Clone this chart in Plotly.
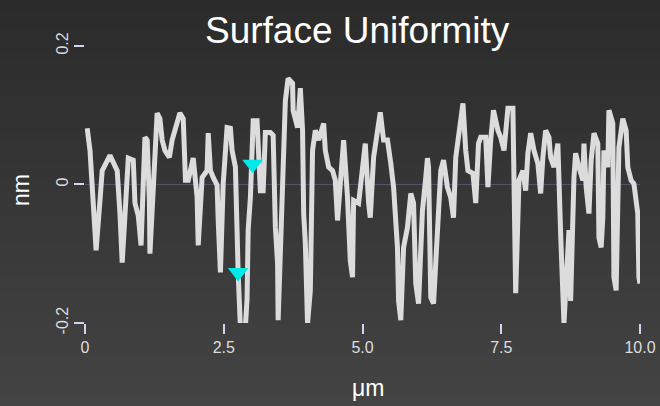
import plotly.graph_objects as go

# Profile data (µm, nm)
x_um = [0.04, 0.09, 0.14, 0.20, 0.27, 0.31, 0.45, 0.58, 0.63, 0.67,
        0.78, 0.87, 0.90, 0.96, 1.01, 1.05, 1.08, 1.12, 1.16, 1.17,
        1.23, 1.26, 1.30, 1.35, 1.39, 1.44, 1.52, 1.57, 1.66, 1.71,
        1.77, 1.81, 1.86, 1.95, 2.02, 2.04, 2.11, 2.20, 2.22, 2.26,
        2.31, 2.38, 2.40, 2.44, 2.49, 2.53, 2.56, 2.62, 2.65, 2.71,
        2.74, 2.76, 2.80, 2.89, 2.92, 2.94, 2.98, 3.01, 3.03, 3.10,
        3.12, 3.16, 3.21, 3.25, 3.34, 3.39, 3.43, 3.47, 3.48, 3.56,
        3.61, 3.66, 3.74, 3.75, 3.83, 3.88, 3.92, 3.94, 3.97, 4.01,
        4.06, 4.10, 4.15, 4.21, 4.30, 4.33, 4.39, 4.46, 4.51, 4.55,
        4.60, 4.66, 4.73, 4.78, 4.82, 4.84, 4.93, 5.00, 5.05, 5.11,
        5.14, 5.20, 5.27, 5.32, 5.38, 5.45, 5.51, 5.56, 5.63, 5.65,
        5.69, 5.74, 5.81, 5.87, 5.92, 5.96, 6.01, 6.08, 6.14, 6.17,
        6.19, 6.23, 6.28, 6.32, 6.35, 6.41, 6.46, 6.53, 6.59, 6.64,
        6.68, 6.73, 6.81, 6.86, 6.90, 6.99, 7.04, 7.09, 7.13, 7.22,
        7.26, 7.31, 7.36, 7.44, 7.49, 7.55, 7.62, 7.71, 7.73, 7.76,
        7.82, 7.89, 7.94, 7.98, 8.03, 8.09, 8.16, 8.21, 8.25, 8.30,
        8.36, 8.39, 8.45, 8.52, 8.57, 8.63, 8.72, 8.75, 8.81, 8.84,
        8.90, 8.97, 8.99, 9.03, 9.08, 9.12, 9.17, 9.24, 9.26, 9.30,
        9.33, 9.35, 9.42, 9.44, 9.51, 9.53, 9.57, 9.60, 9.62, 9.69,
        9.75, 9.78, 9.84, 9.89, 9.96, 9.98, 10.00]
height_nm = [0.081, 0.049, -0.016, -0.095, -0.023, 0.020, 0.042, 0.020, -0.042, -0.113,
             0.038, 0.035, -0.027, -0.045, -0.088, 0.006, 0.068, 0.064, -0.023, -0.100,
             0.006, 0.049, 0.103, 0.095, 0.064, 0.049, 0.039, 0.064, 0.092, 0.103,
             0.095, 0.006, 0.006, 0.038, -0.019, -0.088, 0.010, 0.020, 0.074, 0.020,
             0.010, -0.001, -0.052, -0.127, 0.001, 0.049, 0.082, 0.081, 0.049, 0.025,
             -0.105, -0.129, -0.206, -0.206, -0.165, -0.066, -0.019, 0.030, 0.092, 0.092,
             0.045, -0.009, -0.009, 0.075, 0.075, 0.071, -0.062, -0.114, -0.196, 0.027,
             0.121, 0.153, 0.146, 0.107, 0.082, 0.139, 0.078, -0.042, -0.085, -0.201,
             -0.153, 0.049, 0.078, 0.064, 0.088, 0.049, 0.025, 0.020, 0.006, -0.052,
             0.006, 0.064, -0.019, -0.110, -0.134, -0.023, -0.027, 0.020, 0.059, -0.027,
             -0.048, 0.039, 0.082, 0.104, 0.064, 0.064, 0.030, -0.004, -0.091, -0.168,
             -0.196, -0.091, -0.062, -0.013, -0.027, -0.143, -0.172, -0.038, 0.010, 0.038,
             0.025, -0.163, -0.172, -0.114, -0.052, 0.020, 0.035, -0.004, -0.019, -0.048,
             0.039, 0.068, 0.117, 0.049, 0.020, 0.016, -0.027, 0.059, 0.068, 0.068,
             -0.004, 0.064, 0.107, 0.078, 0.068, 0.049, 0.110, 0.110, -0.023, -0.157,
             0.006, 0.020, -0.009, 0.045, 0.074, 0.049, 0.030, -0.013, 0.039, 0.078,
             0.068, 0.039, 0.025, 0.059, -0.071, -0.201, -0.066, -0.168, 0.010, 0.045,
             0.025, 0.006, 0.059, -0.004, -0.042, 0.035, 0.074, 0.059, -0.077, -0.091,
             -0.048, 0.049, 0.025, 0.107, 0.088, -0.134, -0.153, -0.066, 0.053, 0.095,
             0.078, 0.025, 0.006, 0.001, -0.042, -0.134, -0.143]

# Highlighted points (cyan markers)
marker_x = [3.02, 2.76]
marker_y = [0.029, -0.127]

x_tick_vals = [0, 2.5, 5, 7.5, 10]
x_tick_text = ["0", "2.5", "5.0", "7.5", "10.0"]
y_tick_vals = [-0.2, 0, 0.2]
y_tick_text = ["-0.2", "0", "0.2"]

W, H = 660, 406
M_L, M_R, M_T, M_B = 85, 20, 32, 83
pw = W - M_L - M_R
ph = H - M_T - M_B


def px_x(p):
    return (p - M_L) / pw


def px_y(p):
    return 1 - (p - M_T) / ph


fig = go.Figure()
fig.add_trace(go.Scatter(x=x_um, y=height_nm, mode="lines",
                         line=dict(color="#dcdcdc", width=5),
                         hoverinfo="x+y", showlegend=False))
fig.add_trace(go.Scatter(x=marker_x, y=marker_y, mode="markers",
                         marker=dict(symbol="triangle-down", size=18, color="#00e8e8",
                                     line=dict(width=0)),
                         showlegend=False))

# background vertical gradient
y_top = px_y(0)
y_bot = px_y(H)
n = 40
shapes = []
c0, c1 = (0x2b, 0x2b, 0x2b), (0x43, 0x43, 0x43)
for i in range(n):
    t = i / (n - 1)
    c = tuple(round(c0[k] + (c1[k] - c0[k]) * t) for k in range(3))
    ya = y_top - (y_top - y_bot) * i / n
    yb = y_top - (y_top - y_bot) * (i + 1) / n
    shapes.append(dict(type="rect", xref="paper", yref="paper",
                       x0=px_x(-10), x1=px_x(W + 10),
                       y0=yb - 0.002, y1=ya + 0.002,
                       fillcolor="rgb(%d,%d,%d)" % c, line=dict(width=0), layer="below"))

annotations = [
    dict(text="Surface Uniformity", xref="paper", yref="paper",
         x=px_x(357), y=px_y(30), xanchor="center", yanchor="middle",
         showarrow=False, font=dict(size=37, color="#ffffff")),
    dict(text="μm", xref="paper", yref="paper",
         x=px_x(368), y=px_y(388), xanchor="center", yanchor="middle",
         showarrow=False, font=dict(size=23, color="#ffffff")),
    dict(text="nm", xref="paper", yref="paper",
         x=px_x(21), y=px_y(190), xanchor="center", yanchor="middle", textangle=-90,
         showarrow=False, font=dict(size=23, color="#ffffff")),
]

fig.update_layout(
    width=W, height=H,
    margin=dict(l=M_L, r=M_R, t=M_T, b=M_B, autoexpand=False),
    paper_bgcolor="#363636", plot_bgcolor="rgba(0,0,0,0)",
    shapes=shapes, annotations=annotations,
    font=dict(family="Liberation Sans, Arial, sans-serif", color="#e0e0e0"),
    xaxis=dict(range=[0, 10], tickvals=x_tick_vals, ticktext=x_tick_text,
               automargin=False,
               showgrid=False, zeroline=False, showline=False,
               ticks="outside", ticklen=10, tickwidth=2, tickcolor="#d4d4ec",
               tickfont=dict(size=16, color="#dddddd")),
    yaxis=dict(range=[-0.2, 0.22], tickvals=y_tick_vals, ticktext=y_tick_text,
               automargin=False,
               showgrid=False, zeroline=True, zerolinecolor="rgba(170,170,255,0.25)",
               zerolinewidth=1, showline=False,
               ticks="outside", ticklen=10, tickwidth=2, tickcolor="#d4d4ec",
               tickangle=-90,
               tickfont=dict(size=16, color="#dddddd")),
)

fig.write_html("out.html", config={"displayModeBar": False},
               post_script="document.body.style.margin='0';document.body.style.background='#363636';")
